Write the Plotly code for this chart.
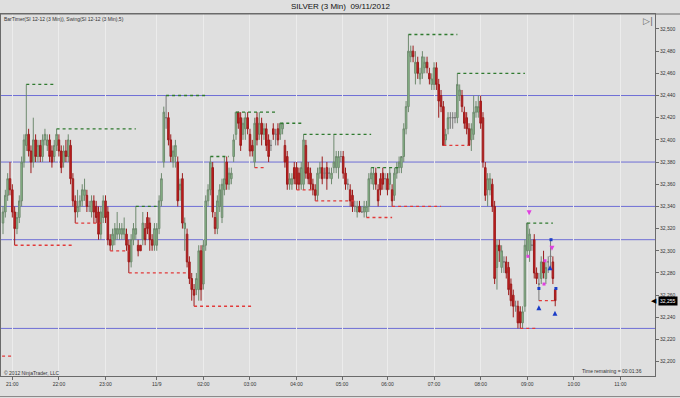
import plotly.graph_objects as go

# ---------------- data (3-min bars, SI 12-12) ----------------
opens = [32.325,32.335,32.350,32.365,32.355,32.335,32.320,32.330,32.345,32.380,
32.395,32.405,32.390,32.380,32.400,32.385,32.395,32.385,32.400,32.395,
32.400,32.390,32.385,32.395,32.400,32.390,32.380,32.390,32.385,32.395,
32.365,32.345,32.335,32.340,32.345,32.350,32.350,32.340,32.335,32.345,
32.340,32.335,32.315,32.330,32.345,32.335,32.310,32.305,32.310,32.315,
32.315,32.315,32.315,32.315,32.305,32.290,32.310,32.315,32.305,32.305,
32.310,32.320,32.330,32.325,32.310,32.305,32.305,32.320,32.345,32.380,
32.420,32.420,32.400,32.380,32.385,32.380,32.355,32.365,32.320,32.315,
32.290,32.275,32.265,32.265,32.265,32.300,32.270,32.305,32.345,32.355,
32.375,32.330,32.320,32.340,32.330,32.355,32.380,32.360,32.365,32.385,
32.405,32.425,32.420,32.405,32.410,32.420,32.405,32.395,32.380,32.420,
32.405,32.415,32.405,32.410,32.400,32.395,32.410,32.405,32.410,32.405,
32.410,32.395,32.385,32.360,32.360,32.375,32.375,32.370,32.360,32.360,
32.395,32.375,32.370,32.360,32.355,32.350,32.370,32.375,32.370,32.375,
32.370,32.365,32.375,32.375,32.375,32.385,32.385,32.370,32.360,32.355,
32.350,32.340,32.335,32.340,32.335,32.335,32.335,32.340,32.365,32.360,
32.370,32.355,32.365,32.370,32.365,32.365,32.360,32.355,32.350,32.370,
32.375,32.375,32.385,32.410,32.430,32.475,32.480,32.460,32.470,32.455,
32.460,32.465,32.470,32.460,32.450,32.450,32.465,32.450,32.440,32.430,
32.400,32.410,32.420,32.420,32.420,32.420,32.440,32.440,32.425,32.420,
32.410,32.400,32.405,32.425,32.425,32.435,32.420,32.375,32.355,32.355,
32.360,32.340,32.285,32.305,32.285,32.290,32.290,32.285,32.270,32.260,
32.250,32.250,32.245,32.235,32.250,32.300,32.300,32.305,32.310,32.280,
32.270,32.275,32.290,32.275,32.290,32.295,32.290,32.265]

highs = [32.340,32.355,32.370,32.380,32.360,32.340,32.335,32.350,32.385,32.405,
32.450,32.410,32.395,32.420,32.405,32.400,32.400,32.405,32.410,32.405,
32.405,32.395,32.400,32.410,32.405,32.395,32.395,32.400,32.405,32.400,
32.370,32.350,32.355,32.350,32.360,32.365,32.355,32.345,32.350,32.350,
32.345,32.340,32.340,32.350,32.350,32.340,32.315,32.320,32.325,32.335,
32.325,32.325,32.330,32.320,32.310,32.315,32.325,32.340,32.310,32.305,
32.335,32.325,32.335,32.330,32.315,32.325,32.325,32.350,32.370,32.430,
32.440,32.425,32.405,32.395,32.400,32.385,32.365,32.370,32.330,32.320,
32.295,32.280,32.270,32.280,32.305,32.305,32.310,32.350,32.360,32.385,
32.380,32.335,32.350,32.360,32.365,32.385,32.385,32.375,32.375,32.405,
32.425,32.425,32.425,32.420,32.425,32.425,32.410,32.400,32.420,32.425,
32.425,32.420,32.415,32.415,32.405,32.400,32.415,32.410,32.415,32.415,
32.415,32.400,32.390,32.370,32.370,32.380,32.380,32.375,32.380,32.405,
32.400,32.380,32.375,32.365,32.360,32.375,32.380,32.385,32.375,32.380,
32.375,32.375,32.405,32.390,32.390,32.390,32.390,32.375,32.365,32.360,
32.355,32.345,32.345,32.345,32.340,32.345,32.345,32.370,32.375,32.375,
32.375,32.360,32.370,32.375,32.370,32.370,32.375,32.360,32.375,32.380,
32.385,32.385,32.415,32.435,32.495,32.485,32.485,32.480,32.475,32.465,
32.480,32.475,32.475,32.465,32.460,32.470,32.470,32.455,32.445,32.435,
32.410,32.425,32.425,32.425,32.425,32.460,32.450,32.445,32.430,32.425,
32.415,32.415,32.440,32.435,32.440,32.440,32.425,32.380,32.370,32.370,
32.365,32.345,32.310,32.310,32.305,32.295,32.295,32.290,32.275,32.265,
32.255,32.255,32.250,32.250,32.310,32.325,32.320,32.310,32.315,32.285,
32.280,32.295,32.300,32.290,32.295,32.310,32.295,32.265]

lows = [32.315,32.330,32.345,32.350,32.330,32.305,32.315,32.325,32.340,32.375,
32.390,32.385,32.370,32.375,32.380,32.380,32.380,32.380,32.395,32.390,
32.380,32.375,32.380,32.390,32.385,32.370,32.375,32.380,32.380,32.360,
32.340,32.325,32.330,32.335,32.340,32.345,32.335,32.335,32.330,32.325,
32.325,32.310,32.310,32.325,32.325,32.305,32.300,32.300,32.305,32.310,
32.310,32.310,32.310,32.300,32.280,32.285,32.305,32.310,32.295,32.300,
32.305,32.305,32.315,32.300,32.300,32.300,32.300,32.315,32.340,32.375,
32.410,32.395,32.380,32.375,32.375,32.340,32.345,32.320,32.300,32.285,
32.270,32.255,32.250,32.260,32.255,32.255,32.265,32.300,32.340,32.350,
32.330,32.315,32.315,32.335,32.325,32.350,32.355,32.355,32.360,32.380,
32.400,32.410,32.390,32.400,32.400,32.405,32.385,32.385,32.375,32.395,
32.400,32.395,32.400,32.390,32.380,32.390,32.400,32.395,32.395,32.400,
32.405,32.375,32.355,32.355,32.355,32.360,32.355,32.355,32.355,32.355,
32.365,32.360,32.355,32.350,32.345,32.345,32.365,32.360,32.365,32.355,
32.365,32.360,32.370,32.370,32.365,32.380,32.365,32.355,32.355,32.340,
32.335,32.335,32.330,32.335,32.335,32.330,32.330,32.335,32.360,32.355,
32.355,32.340,32.350,32.355,32.355,32.350,32.355,32.340,32.345,32.365,
32.370,32.370,32.380,32.405,32.425,32.470,32.470,32.450,32.455,32.450,
32.455,32.460,32.460,32.450,32.445,32.445,32.445,32.420,32.425,32.395,
32.395,32.405,32.410,32.410,32.415,32.415,32.435,32.425,32.410,32.405,
32.395,32.390,32.400,32.420,32.420,32.410,32.375,32.345,32.340,32.350,
32.335,32.270,32.265,32.290,32.280,32.280,32.275,32.260,32.250,32.240,
32.245,32.230,32.230,32.230,32.245,32.295,32.290,32.300,32.275,32.270,
32.255,32.270,32.275,32.270,32.280,32.285,32.270,32.250]

closes = [32.335,32.350,32.365,32.355,32.335,32.320,32.330,32.345,32.380,32.400,
32.405,32.390,32.380,32.400,32.385,32.395,32.385,32.400,32.405,32.400,
32.385,32.380,32.395,32.405,32.390,32.375,32.390,32.385,32.400,32.365,
32.345,32.335,32.340,32.345,32.355,32.355,32.340,32.340,32.345,32.335,
32.330,32.315,32.335,32.345,32.330,32.310,32.305,32.315,32.320,32.320,
32.320,32.320,32.320,32.305,32.290,32.310,32.320,32.320,32.300,32.300,
32.325,32.310,32.320,32.310,32.305,32.320,32.320,32.345,32.365,32.425,
32.420,32.400,32.385,32.390,32.395,32.345,32.360,32.325,32.325,32.290,
32.275,32.265,32.260,32.275,32.300,32.265,32.305,32.345,32.355,32.380,
32.335,32.320,32.345,32.355,32.360,32.365,32.360,32.370,32.370,32.400,
32.425,32.415,32.395,32.415,32.420,32.410,32.390,32.390,32.415,32.400,
32.415,32.405,32.410,32.395,32.385,32.395,32.405,32.405,32.400,32.415,
32.415,32.380,32.360,32.365,32.365,32.365,32.360,32.360,32.375,32.400,
32.370,32.365,32.360,32.355,32.350,32.370,32.375,32.365,32.370,32.365,
32.370,32.370,32.380,32.385,32.385,32.385,32.370,32.360,32.360,32.345,
32.340,32.340,32.340,32.335,32.335,32.340,32.340,32.365,32.370,32.370,
32.360,32.345,32.355,32.360,32.365,32.355,32.370,32.345,32.370,32.375,
32.380,32.385,32.410,32.430,32.480,32.480,32.475,32.470,32.460,32.460,
32.475,32.470,32.465,32.455,32.455,32.465,32.450,32.435,32.430,32.395,
32.405,32.420,32.420,32.420,32.420,32.450,32.445,32.430,32.415,32.410,
32.395,32.410,32.425,32.430,32.430,32.415,32.380,32.350,32.365,32.365,
32.340,32.275,32.305,32.300,32.300,32.290,32.280,32.265,32.255,32.250,
32.250,32.235,32.235,32.245,32.305,32.325,32.315,32.305,32.280,32.275,
32.270,32.290,32.280,32.285,32.290,32.295,32.275,32.255]

tick_pos = [4, 24, 44, 66, 86, 106, 126, 145.5, 165, 185, 205, 225, 245, 265]
tick_labels = ["21:00", "22:00", "23:00", "11/9", "02:00", "03:00", "04:00",
               "05:00", "06:00", "07:00", "08:00", "09:00", "10:00", "11:00"]
price_ticks = [32.20, 32.22, 32.24, 32.26, 32.28, 32.30, 32.32, 32.34,
               32.36, 32.38, 32.40, 32.42, 32.44, 32.46, 32.48, 32.50]
price_labels = ["32,200", "32,220", "32,240", "32,260", "32,280", "32,300",
                "32,320", "32,340", "32,360", "32,380", "32,400", "32,420",
                "32,440", "32,460", "32,480", "32,500"]
level_lines = [32.440, 32.380, 32.340, 32.310, 32.230]

swing_high_start = [10, 23, 57, 70, 89, 100, 119, 129, 158, 174, 195, 225]
swing_high_end = [22, 57, 67, 88, 97, 118, 129, 158, 170, 195, 224, 236]
swing_high_price = [32.450, 32.410, 32.340, 32.440, 32.385, 32.425, 32.415,
                    32.405, 32.375, 32.495, 32.460, 32.325]

swing_low_start = [-0.4, 5, 31, 46, 54, 82, 108, 126, 134, 156, 167, 189, 222, 230]
swing_low_end = [4.3, 30, 42, 54, 79, 107, 113, 133, 152, 167, 188, 200, 229, 237]
swing_low_price = [32.205, 32.305, 32.325, 32.300, 32.280, 32.250, 32.375,
                   32.355, 32.345, 32.330, 32.340, 32.395, 32.230, 32.255]

magenta_arrow_x = [225.8, 235.6]
magenta_arrow_y = [32.332, 32.300]
magenta_dot_x = [225.3, 232.6, 232.2]
magenta_dot_y = [32.295, 32.291, 32.270]
blue_arrow_x = [230.0, 234.8, 236.9]
blue_arrow_y = [32.251, 32.287, 32.246]
blue_dot_x = [230.0, 235.2, 237.3]
blue_dot_y = [32.266, 32.310, 32.266]

last_price = 32.255
last_label = "32,255"

# ---------------- figure ----------------
n = len(closes)
idx = list(range(n))
up = [i for i in idx if closes[i] > opens[i]]
dn = [i for i in idx if closes[i] < opens[i]]
flat = [i for i in idx if closes[i] == opens[i]]

def sub(arr, ii):
    return [arr[i] for i in ii]

fig = go.Figure()

for lv in level_lines:
    fig.add_shape(type="line", xref="paper", x0=0, x1=1, yref="y", y0=lv, y1=lv,
                  line=dict(color="#6e6ed6", width=1), layer="below")

def add_candles(ii, fill, line):
    fig.add_trace(go.Candlestick(
        x=ii, open=sub(opens, ii), high=sub(highs, ii), low=sub(lows, ii), close=sub(closes, ii),
        increasing=dict(fillcolor=fill, line=dict(color=line, width=1)),
        decreasing=dict(fillcolor=fill, line=dict(color=line, width=1)),
        whiskerwidth=0, hoverinfo="skip", showlegend=False))

add_candles(up, "#8cc08c", "#6f8a6f")
add_candles(dn, "#c81e1e", "#9c1c1c")
add_candles(flat, "#b4b4b4", "#7a7a7a")

def seg_xy(starts, ends, prices):
    xs, ys = [], []
    for s, e, p in zip(starts, ends, prices):
        xs += [s, e, None]
        ys += [p, p, None]
    return xs, ys

hx, hy = seg_xy(swing_high_start, swing_high_end, swing_high_price)
fig.add_trace(go.Scatter(x=hx, y=hy, mode="lines", line=dict(color="#2f7a2f", width=1.3, dash="dot"),
                         hoverinfo="skip", showlegend=False))
lx, ly = seg_xy(swing_low_start, swing_low_end, swing_low_price)
fig.add_trace(go.Scatter(x=lx, y=ly, mode="lines", line=dict(color="#e23a3a", width=1.3, dash="dot"),
                         hoverinfo="skip", showlegend=False))

fig.add_trace(go.Scatter(x=magenta_arrow_x, y=magenta_arrow_y, mode="markers",
                         marker=dict(symbol="arrow-down", size=5, color="#e040e0"),
                         hoverinfo="skip", showlegend=False))
fig.add_trace(go.Scatter(x=magenta_dot_x, y=magenta_dot_y, mode="markers",
                         marker=dict(symbol="square", size=3, color="#e040e0"),
                         hoverinfo="skip", showlegend=False))
fig.add_trace(go.Scatter(x=blue_arrow_x, y=blue_arrow_y, mode="markers",
                         marker=dict(symbol="arrow-up", size=5, color="#1a3cc8"),
                         hoverinfo="skip", showlegend=False))
fig.add_trace(go.Scatter(x=blue_dot_x, y=blue_dot_y, mode="markers",
                         marker=dict(symbol="square", size=3, color="#1a3cc8"),
                         hoverinfo="skip", showlegend=False))

W, H = 680, 398
ml, mr, mt, mb = 1, 25, 14, 22
pw, ph = W - ml - mr, H - mt - mb
def px(xpix):
    return (xpix - ml) / pw
def py(ypix):
    return (H - mb - ypix) / ph

small = dict(family="Liberation Sans, Arial, sans-serif", size=5, color="#333333")

fig.update_layout(
    width=W, height=H,
    margin=dict(l=ml, r=mr, t=mt, b=mb, pad=0),
    paper_bgcolor="#dfdfdf", plot_bgcolor="#dfdfdf",
    boxgap=0.05,
    showlegend=False,
    font=dict(family="Liberation Sans, Arial, sans-serif", size=5, color="#333333"),
    xaxis=dict(range=[-0.86, 279.83], tickmode="array", tickvals=tick_pos, ticktext=tick_labels,
               showgrid=True, gridcolor="#ececec", gridwidth=1, zeroline=False,
               showline=True, linecolor="#6a6a6a", linewidth=1, mirror=True,
               ticks="outside", ticklen=3, tickcolor="#6a6a6a", tickfont=small,
               rangeslider=dict(visible=False), fixedrange=True),
    yaxis=dict(range=[32.1871, 32.5135], side="right", tickmode="array",
               tickvals=price_ticks, ticktext=price_labels, showgrid=False, zeroline=False,
               showline=True, linecolor="#6a6a6a", linewidth=1, mirror=True,
               ticks="outside", ticklen=3, tickcolor="#6a6a6a", tickfont=small, fixedrange=True),
)

fig.add_shape(type="line", xref="paper", yref="paper", x0=px(0), x1=px(W), y0=1, y1=1,
              line=dict(color="#6a6a6a", width=1))
fig.add_shape(type="line", xref="paper", yref="paper", x0=px(0), x1=px(W), y0=py(396.5), y1=py(396.5),
              line=dict(color="#8a8a8a", width=1))

ann = []
ann.append(dict(text="SILVER (3 Min)  09/11/2012", xref="paper", yref="paper", x=px(340), y=py(7),
                xanchor="center", yanchor="middle", showarrow=False,
                font=dict(family="Liberation Sans, Arial, sans-serif", size=8, color="#111111")))
ann.append(dict(text="BarTimer(SI 12-12 (3 Min)), Swing(SI 12-12 (3 Min),5)", xref="paper", yref="paper",
                x=px(2), y=py(18.5), xanchor="left", yanchor="middle", showarrow=False, font=small))
ann.append(dict(text="© 2012 NinjaTrader, LLC", xref="paper", yref="paper",
                x=px(2), y=py(372.5), xanchor="left", yanchor="middle", showarrow=False, font=small))
ann.append(dict(text="Time remaining = 00:01:36", xref="paper", yref="paper",
                x=px(644), y=py(371), xanchor="right", yanchor="middle", showarrow=False, font=small))
ann.append(dict(text="▷|", xref="paper", yref="paper", x=px(648), y=py(21), xanchor="center",
                yanchor="middle", showarrow=False,
                font=dict(family="DejaVu Sans", size=9, color="#666666")))
ann.append(dict(text=last_label, xref="paper", yref="y", x=px(658), y=last_price, xanchor="left",
                yanchor="middle", showarrow=False, bgcolor="#000000", borderpad=1,
                font=dict(family="Liberation Sans, Arial, sans-serif", size=5, color="#ffffff")))
ann.append(dict(text="◀", xref="paper", yref="y", x=px(659), y=last_price, xanchor="right",
                yanchor="middle", showarrow=False,
                font=dict(family="DejaVu Sans", size=7, color="#000000")))
fig.update_layout(annotations=ann)

fig.write_html("out.html", config={"displayModeBar": False})
